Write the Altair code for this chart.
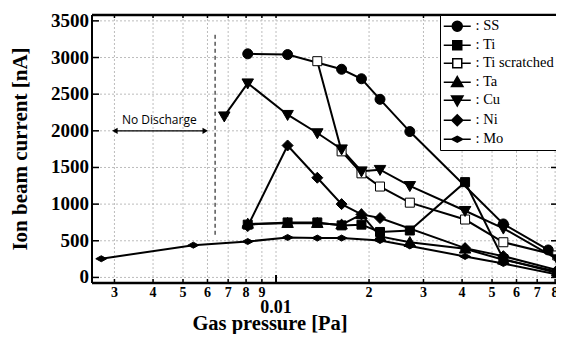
import altair as alt
import pandas as pd

# ---------------- data ----------------
metals = ["SS", "Ti", "Ti scratched", "Ta", "Cu", "Ni", "Mo"]

ss_p = [0.0081, 0.0109, 0.0163, 0.0189, 0.0217, 0.0271, 0.0544, 0.0760]
ss_i = [3050, 3040, 2840, 2710, 2430, 1990, 730, 375]
ti_p = [0.0081, 0.0109, 0.0136, 0.0163, 0.0189, 0.0217, 0.0271, 0.0409, 0.0544, 0.0813]
ti_i = [720, 750, 750, 710, 720, 620, 640, 1300, 250, 60]
tis_p = [0.0136, 0.0163, 0.0189, 0.0217, 0.0271, 0.0409, 0.0544, 0.0813]
tis_i = [2950, 1720, 1420, 1240, 1020, 790, 480, 300]
ta_p = [0.0081, 0.0109, 0.0136, 0.0163, 0.0189, 0.0217, 0.0271, 0.0409, 0.0544, 0.0813]
ta_i = [730, 740, 740, 720, 860, 560, 480, 390, 240, 80]
cu_p = [0.0068, 0.0081, 0.0109, 0.0136, 0.0163, 0.0189, 0.0217, 0.0271, 0.0409, 0.0544, 0.0813]
cu_i = [2200, 2650, 2220, 1970, 1750, 1450, 1470, 1250, 910, 670, 250]
ni_p = [0.0081, 0.0109, 0.0136, 0.0163, 0.0189, 0.0217, 0.0409, 0.0544, 0.0813]
ni_i = [700, 1800, 1360, 1000, 860, 810, 400, 290, 100]
mo_p = [0.00272, 0.0054, 0.0081, 0.0109, 0.0136, 0.0163, 0.0217, 0.0271, 0.0409, 0.0544, 0.0813]
mo_i = [255, 440, 490, 545, 537, 537, 504, 430, 286, 190, 40]

x_tick_values = [0.003, 0.004, 0.005, 0.006, 0.007, 0.008, 0.009, 0.01,
                 0.02, 0.03, 0.04, 0.05, 0.06, 0.07, 0.08]
x_tick_labels = ["3", "4", "5", "6", "7", "8", "9", "0.01",
                 "2", "3", "4", "5", "6", "7", "8"]
x_major = [0.01]
y_tick_values = [0, 500, 1000, 1500, 2000, 2500, 3000, 3500]
y_tick_labels = ["0", "500", "1000", "1500", "2000", "2500", "3000", "3500"]
x_title = "Gas pressure [Pa]"
y_title = "Ion beam current [nA]"

# annotation
nd_boundary = [0.00635]
nd_top = [3310]
nd_bottom = [550]
arrow_left = [0.00301]
arrow_right = [0.0059]
arrow_level = [2000]
nd_text = ["No Discharge"]
nd_text_x = [0.00419]
nd_text_y = [2150]

# ---------------- tables ----------------
series = [(ss_p, ss_i), (ti_p, ti_i), (tis_p, tis_i), (ta_p, ta_i),
          (cu_p, cu_i), (ni_p, ni_i), (mo_p, mo_i)]
rows = []
for m, (ps, cs) in zip(metals, series):
    for p, c in zip(ps, cs):
        rows.append({"metal": m, "pressure": p, "current": c})
df = pd.DataFrame(rows)

W, H = 464, 268
SERIF = "Liberation Serif"

xscale = alt.Scale(type="log", domain=[0.002538, 0.08053], nice=False)
yscale = alt.Scale(domain=[-76, 3580], nice=False, zero=False)
Xn = alt.X("pressure:Q", scale=xscale, axis=None)
Yn = alt.Y("current:Q", scale=yscale, axis=None)

xt = pd.DataFrame({"pressure": x_tick_values, "label": x_tick_labels,
                   "major": [v in x_major for v in x_tick_values]})
xt_minor = xt[~xt["major"]]
xt_major = xt[xt["major"]]
yt = pd.DataFrame({"current": y_tick_values, "label": y_tick_labels})

# grid
grid_x = alt.Chart(xt).mark_rule(color="#bdbdbd", strokeWidth=1, strokeDash=[2, 2]).encode(
    x=Xn, y=alt.value(0), y2=alt.value(H))
grid_y = alt.Chart(yt).mark_rule(color="#bdbdbd", strokeWidth=1, strokeDash=[2, 2]).encode(
    y=Yn, x=alt.value(0), x2=alt.value(W))

# frame
frame_df = pd.DataFrame({"k": [0]})
bottom_line = alt.Chart(frame_df).mark_rule(color="black", strokeWidth=2.5).encode(
    x=alt.value(0), x2=alt.value(W + 5), y=alt.value(H))
top_line = alt.Chart(frame_df).mark_rule(color="black", strokeWidth=2.5).encode(
    x=alt.value(0), x2=alt.value(W + 5), y=alt.value(0))
left_line = alt.Chart(frame_df).mark_rule(color="black", strokeWidth=2).encode(
    y=alt.value(0), y2=alt.value(H), x=alt.value(0))

# inward ticks
bot_minor = alt.Chart(xt_minor).mark_rule(color="black", strokeWidth=1.5).encode(
    x=Xn, y=alt.value(H), y2=alt.value(H - 4))
bot_major = alt.Chart(xt_major).mark_rule(color="black", strokeWidth=2).encode(
    x=Xn, y=alt.value(H), y2=alt.value(H - 8))
top_ticks = alt.Chart(xt).mark_rule(color="black", strokeWidth=1.5).encode(
    x=Xn, y=alt.value(0), y2=alt.value(3))
left_ticks = alt.Chart(yt).mark_rule(color="black", strokeWidth=1.5).encode(
    y=Yn, x=alt.value(0), x2=alt.value(7))
right_ticks = alt.Chart(yt).mark_rule(color="black", strokeWidth=1.5).encode(
    y=Yn, x=alt.value(W - 5), x2=alt.value(W))

# tick labels and titles
xlab_minor = alt.Chart(xt_minor).mark_text(
    font=SERIF, fontWeight="bold", fontSize=14, color="black", baseline="middle"
).encode(x=Xn, y=alt.value(H + 10), text="label:N")
xlab_major = alt.Chart(xt_major).mark_text(
    font=SERIF, fontWeight="bold", fontSize=18, color="black", baseline="middle"
).encode(x=Xn, y=alt.value(H + 25), text="label:N")
ylab = alt.Chart(yt).mark_text(
    font=SERIF, fontWeight="bold", fontSize=19, color="black", baseline="middle",
    align="right"
).encode(y=Yn, x=alt.value(-3), text="label:N")
xtitle = alt.Chart(pd.DataFrame({"t": [x_title]})).mark_text(
    font=SERIF, fontWeight="bold", fontSize=20.5, color="black",
    baseline="alphabetic", align="center"
).encode(x=alt.value(178), y=alt.value(H + 46.5), text="t:N")
ytitle = alt.Chart(pd.DataFrame({"t": [y_title]})).mark_text(
    font=SERIF, fontWeight="bold", fontSize=21, color="black",
    baseline="alphabetic", align="center", angle=270
).encode(x=alt.value(-65), y=alt.value(134), text="t:N")

# series
marker_paths = [
    "M-1,0A1,1,0,1,0,1,0A1,1,0,1,0,-1,0Z",
    "M-0.9,-0.9H0.9V0.9H-0.9Z",
    "M-0.9,-0.9H0.9V0.9H-0.9Z",
    "M-1.15,0.85L0,-1.15L1.15,0.85Z",
    "M-1.15,-0.85L0,1.15L1.15,-0.85Z",
    "M-1.1,0L0,-1.1L1.1,0L0,1.1Z",
    "M-1.1,0L0,-0.6L1.1,0L0,0.6Z",
]
line_part = "M-2.7,0H2.7"
legend_paths = [line_part + p for p in marker_paths]
legend_paths[2] = "M-2.7,0H-0.9M0.9,0H2.7" + marker_paths[2]
fills = ["black", "black", "white", "black", "black", "black", "black"]
strokes = ["black"] * len(metals)

lines = alt.Chart(df).mark_line(color="black", strokeWidth=2).encode(
    x=Xn, y=Yn, detail="metal:N")

points = alt.Chart(df).mark_point(filled=True, stroke="black", strokeWidth=1,
                                  opacity=1, size=100).encode(
    x=Xn, y=Yn,
    shape=alt.Shape("metal:N", scale=alt.Scale(domain=metals, range=marker_paths), legend=None),
    fill=alt.Fill("metal:N", scale=alt.Scale(domain=metals, range=fills), legend=None),
)

leg = alt.Legend(
    orient="none", legendX=348, legendY=0, title=None,
    labelFont=SERIF, labelFontSize=14.5, labelColor="black",
    labelExpr="': ' + datum.label",
    symbolSize=100, symbolStrokeWidth=1.5, symbolStrokeColor="black",
    symbolOpacity=1, symbolOffset=6, labelOffset=11,
    strokeColor="black", fillColor="white", padding=4, rowPadding=2,
    cornerRadius=0,
)
legend_df = pd.DataFrame({"metal": metals, "pressure": [0.001] * len(metals),
                          "current": [0] * len(metals)})
legend_layer = alt.Chart(legend_df).mark_point(
    filled=True, strokeWidth=1.5, opacity=1, size=100, clip=True
).encode(
    x=Xn, y=Yn,
    shape=alt.Shape("metal:N", scale=alt.Scale(domain=metals, range=legend_paths), legend=leg),
    fill=alt.Fill("metal:N", scale=alt.Scale(domain=metals, range=fills), legend=leg),
    stroke=alt.Stroke("metal:N", scale=alt.Scale(domain=metals, range=strokes), legend=leg),
)

# annotation
dash = alt.Chart(pd.DataFrame({"pressure": nd_boundary, "current": nd_top,
                               "current2": nd_bottom})).mark_rule(
    color="black", strokeWidth=1, strokeDash=[4, 3]).encode(
    x=Xn, y=Yn, y2="current2:Q")
arrow = alt.Chart(pd.DataFrame({"pressure": arrow_left, "pressure2": arrow_right,
                                "current": arrow_level})).mark_rule(
    color="black", strokeWidth=1.2).encode(x=Xn, x2="pressure2:Q", y=Yn)
head_l = alt.Chart(pd.DataFrame({"pressure": arrow_left, "current": arrow_level})).mark_point(
    shape="triangle-left", filled=True, color="black", size=40, opacity=1).encode(x=Xn, y=Yn)
head_r = alt.Chart(pd.DataFrame({"pressure": arrow_right, "current": arrow_level})).mark_point(
    shape="triangle-right", filled=True, color="black", size=40, opacity=1).encode(x=Xn, y=Yn)
txt = alt.Chart(pd.DataFrame({"pressure": nd_text_x, "current": nd_text_y, "t": nd_text})).mark_text(
    font="Open Sans", fontSize=12, color="black").encode(x=Xn, y=Yn, text="t:N")

chart = alt.layer(
    grid_x, grid_y, lines, dash, arrow, head_l, head_r, txt, points, legend_layer,
    bottom_line, top_line, left_line,
    bot_minor, bot_major, top_ticks, left_ticks, right_ticks,
    xlab_minor, xlab_major, ylab, xtitle, ytitle,
).resolve_scale(shape="independent", fill="independent", stroke="independent").properties(
    width=W, height=H,
    autosize=alt.AutoSizeParams(type="none"),
    padding={"left": 84, "top": 7, "right": 0, "bottom": 51},
).configure_view(stroke=None).configure(background="white")

chart.save("out.html", embed_options={"renderer": "svg", "actions": False})
